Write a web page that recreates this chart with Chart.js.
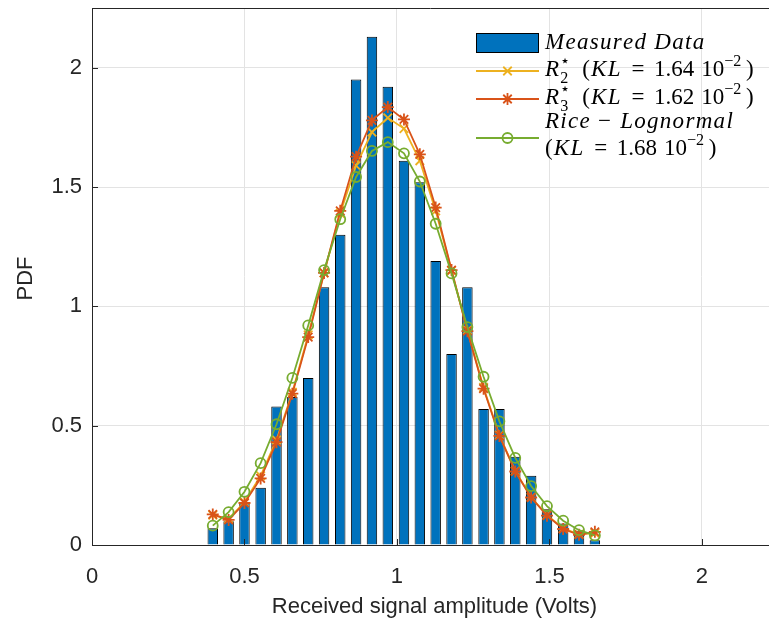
<!DOCTYPE html>
<html>
<head>
<meta charset="utf-8">
<script src="https://cdn.jsdelivr.net/npm/chart.js@4.4.1/dist/chart.umd.min.js"></script>
<style>
  html, body { margin: 0; padding: 0; background: #fff; }
  #wrap { width: 769px; height: 626px; }
</style>
</head>
<body>
<div id="wrap"><canvas id="chart" width="769" height="626"></canvas></div>
<script>
// histogram bin centres (Volts)
const binCenters = [0.396, 0.448, 0.500, 0.553, 0.605, 0.657, 0.709, 0.761, 0.814, 0.866,
    0.918, 0.970, 1.023, 1.075, 1.127, 1.179, 1.231, 1.284, 1.336, 1.388,
    1.440, 1.492, 1.545, 1.597, 1.649];

const measured = [0.07, 0.10, 0.18, 0.24, 0.58, 0.62, 0.70, 1.08, 1.30, 1.95,
    2.13, 1.92, 1.61, 1.52, 1.19, 0.80, 1.08, 0.57, 0.57, 0.37,
    0.29, 0.15, 0.09, 0.06, 0.02];

const r2Fit = [0.125, 0.11, 0.18, 0.29, 0.44, 0.64, 0.88, 1.14, 1.39, 1.59,
    1.73, 1.79, 1.745, 1.61, 1.40, 1.15, 0.90, 0.66, 0.46, 0.31,
    0.20, 0.125, 0.07, 0.045, 0.05];

const r3Fit = [0.128, 0.105, 0.176, 0.279, 0.431, 0.634, 0.871, 1.14, 1.40, 1.627,
    1.779, 1.835, 1.783, 1.637, 1.414, 1.152, 0.896, 0.655, 0.457, 0.308,
    0.199, 0.123, 0.067, 0.043, 0.055];

const riceFit = [0.081, 0.138, 0.223, 0.343, 0.506, 0.70, 0.92, 1.152, 1.365, 1.542,
    1.651, 1.688, 1.641, 1.523, 1.346, 1.138, 0.913, 0.705, 0.518, 0.365,
    0.247, 0.163, 0.102, 0.062, 0.04];

const xTicks = [0, 0.5, 1, 1.5, 2];
const yTicks = [0, 0.5, 1, 1.5, 2];

const BLUE = '#0072BD', YELLOW = '#EDB120', ORANGE = '#D95319', GREEN = '#77AC30';
const AXIS = '#262626';
const SANS = '"Liberation Sans", Arial, sans-serif';
const SERIF = '"Liberation Serif", "DejaVu Serif", serif';

function pts(ys) {
    return binCenters.map((x, i) => ({ x: x, y: ys[i] }));
}

// rich text for the LaTeX style legend entries
function drawRich(ctx, x, base, tokens, size, spacing) {
    let cx = x;
    for (const tk of tokens) {
        if (tk.gap) { cx += tk.gap * size; continue; }
        let fs = size, dy = 0;
        if (tk.s === 'sub') { fs = size * 0.7; dy = size * 0.3; }
        if (tk.s === 'sup') { fs = size * 0.7; dy = -size * 0.42; }
        ctx.font = (tk.i ? 'italic ' : '') + fs + 'px ' + SERIF;
        let w = 0;
        for (const ch of tk.t) {
            ctx.fillText(ch, cx + w, base + dy);
            w += ctx.measureText(ch).width + (tk.i ? spacing : 0);
        }
        if (tk.back) continue;
        cx += w;
    }
}

function klTokens(val) {
    return [
        { t: '(' }, { gap: 0.05 }, { t: 'KL', i: true }, { gap: 0.42 }, { t: '=' }, { gap: 0.42 },
        { t: val }, { gap: 0.3 }, { t: '10' }, { t: '\u22122', s: 'sup' }, { gap: 0.2 }, { t: ')' }
    ];
}

const legendItems = [
    { kind: 'bar', y: 43, lines: [[{ t: 'Measured', i: true }, { gap: 0.3 }, { t: 'Data', i: true }]] },
    { kind: 'line', color: YELLOW, style: 'crossRot', y: 71,
      lines: [[{ t: 'R', i: true }, { t: '\u22c6', s: 'sup', back: true }, { t: '2', s: 'sub' }, { gap: 0.6 }].concat(klTokens('1.64'))] },
    { kind: 'line', color: ORANGE, style: 'star', y: 99,
      lines: [[{ t: 'R', i: true }, { t: '\u22c6', s: 'sup', back: true }, { t: '3', s: 'sub' }, { gap: 0.6 }].concat(klTokens('1.62'))] },
    { kind: 'line', color: GREEN, style: 'circle', y: 138,
      lines: [[{ t: 'Rice', i: true }, { gap: 0.3 }, { t: '\u2212' }, { gap: 0.4 }, { t: 'Lognormal', i: true }],
              klTokens('1.68')] }
];
const legendBase = [49, 76, 104, 128, 155];

const decor = {
    id: 'decor',
    afterDatasetsDraw(chart) {
        const ctx = chart.ctx;
        const xs = chart.scales.x, ys = chart.scales.y;
        const a = chart.chartArea;
        ctx.save();
        // inward tick marks
        ctx.strokeStyle = AXIS;
        ctx.lineWidth = 1;
        ctx.beginPath();
        for (const t of xTicks) {
            const px = Math.round(xs.getPixelForValue(t)) + 0.5;
            ctx.moveTo(px, a.bottom); ctx.lineTo(px, a.bottom - 6);
        }
        for (const t of yTicks) {
            const py = Math.round(ys.getPixelForValue(t)) + 0.5;
            ctx.moveTo(a.left, py); ctx.lineTo(a.left + 6, py);
        }
        // top box line
        ctx.moveTo(a.left, a.top + 0.5); ctx.lineTo(a.right, a.top + 0.5);
        ctx.stroke();

        // axis titles
        ctx.fillStyle = AXIS;
        ctx.font = '22px ' + SANS;
        ctx.textAlign = 'center';
        ctx.textBaseline = 'middle';
        ctx.fillText('Received signal amplitude (Volts)', (a.left + a.right) / 2 + 4, 607);
        ctx.save();
        ctx.translate(26, (a.top + a.bottom) / 2 + 2);
        ctx.rotate(-Math.PI / 2);
        ctx.fillText('PDF', 0, 0);
        ctx.restore();

        // legend
        const lx0 = 476, lx1 = 539, tx = 545;
        ctx.textAlign = 'left';
        ctx.textBaseline = 'alphabetic';
        let row = 0;
        legendItems.forEach((it) => {
            if (it.kind === 'bar') {
                ctx.fillStyle = BLUE;
                ctx.fillRect(lx0, it.y - 10, lx1 - lx0, 20);
                ctx.strokeStyle = '#000';
                ctx.lineWidth = 1;
                ctx.strokeRect(lx0 + 0.5, it.y - 9.5, lx1 - lx0 - 1, 19);
            } else {
                ctx.strokeStyle = it.color;
                ctx.fillStyle = 'rgba(0,0,0,0)';
                ctx.lineWidth = 1.8;
                ctx.beginPath();
                ctx.moveTo(lx0, it.y); ctx.lineTo(lx1, it.y);
                ctx.stroke();
                Chart.helpers.drawPoint(ctx, {
                    pointStyle: it.style, radius: it.style === 'circle' ? 5 : 6,
                    rotation: 0, borderWidth: 1.8
                }, (lx0 + lx1) / 2, it.y);
            }
            ctx.fillStyle = '#000';
            it.lines.forEach((ln) => drawRich(ctx, tx, legendBase[row++], ln, 23, 1.3));
        });
        ctx.restore();
    }
};

const ctx = document.getElementById('chart');

const lineDs = (label, ys, color, style, radius, order) => ({
    type: 'line',
    label: label,
    data: pts(ys),
    borderColor: color,
    backgroundColor: color,
    borderWidth: 1.8,
    pointStyle: style,
    pointRadius: radius,
    pointBorderColor: color,
    pointBackgroundColor: 'rgba(0,0,0,0)',
    pointBorderWidth: 1.8,
    tension: 0,
    order: order
});

new Chart(ctx, {
    type: 'bar',
    data: {
        datasets: [
            {
                label: 'Measured Data',
                data: pts(measured),
                backgroundColor: BLUE,
                borderColor: '#000',
                borderWidth: 1,
                barPercentage: 0.66,
                categoryPercentage: 1,
                order: 4
            },
            lineDs('R2', r2Fit, YELLOW, 'crossRot', 6, 3),
            lineDs('R3', r3Fit, ORANGE, 'star', 6, 2),
            lineDs('Rice-Lognormal', riceFit, GREEN, 'circle', 5, 1)
        ]
    },
    options: {
        responsive: false,
        animation: false,
        layout: { autoPadding: false, padding: { top: 8, right: 0, left: 0, bottom: 0 } },
        plugins: { legend: { display: false }, tooltip: { enabled: false } },
        scales: {
            x: {
                type: 'linear',
                min: 0,
                max: 2.22,
                offset: false,
                afterFit: (s) => { s.height = 81; s.paddingLeft = 0; s.paddingRight = 0; },
                afterBuildTicks: (s) => { s.ticks = xTicks.map(v => ({ value: v })); },
                ticks: {
                    callback: (v) => String(v),
                    font: { family: SANS, size: 22 },
                    color: AXIS,
                    padding: 19,
                    maxRotation: 0
                },
                grid: { color: '#e3e3e3', drawTicks: false, offset: false },
                border: { color: AXIS, width: 1 }
            },
            y: {
                min: 0,
                max: 2.25,
                afterFit: (s) => { s.width = 92; s.paddingTop = 0; s.paddingBottom = 0; },
                afterBuildTicks: (s) => { s.ticks = yTicks.map(v => ({ value: v })); },
                ticks: {
                    callback: (v) => String(v),
                    font: { family: SANS, size: 22 },
                    color: AXIS,
                    padding: 10
                },
                grid: { color: '#e3e3e3', drawTicks: false },
                border: { color: AXIS, width: 1 }
            }
        }
    },
    plugins: [decor]
});
</script>
</body>
</html>
